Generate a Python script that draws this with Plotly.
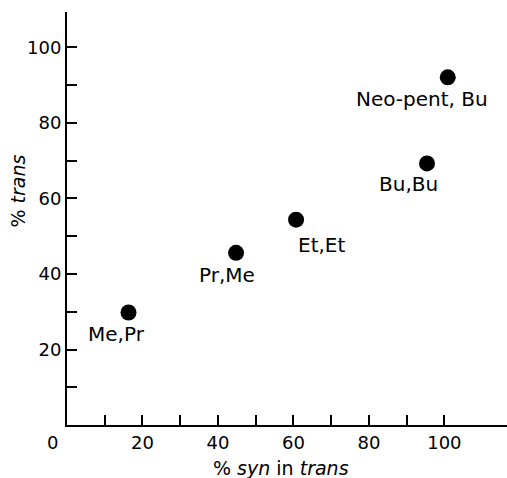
import plotly.graph_objects as go

# data
labels = ["Me,Pr", "Pr,Me", "Et,Et", "Bu,Bu", "Neo-pent, Bu"]
syn_in_trans = [16.3, 44.8, 60.7, 95.4, 100.9]
pct_trans = [29.8, 45.6, 54.4, 69.3, 92.1]
x_tick_vals = [10, 20, 30, 40, 50, 60, 70, 80, 90, 100]
x_tick_text = ["", "20", "", "40", "", "60", "", "80", "", "100"]
y_tick_vals = [10, 20, 30, 40, 50, 60, 70, 80, 90, 100]
y_tick_text = ["", "20", "", "40", "", "60", "", "80", "", "100"]

# label offsets in pixels (style, not data)
label_dx = [-12, -9, 25, -19, -26]
label_dy = [-21, -22, -25, -21, -22]

FONT = "DejaVu Sans"

fig = go.Figure()
fig.add_trace(go.Scatter(
    x=syn_in_trans, y=pct_trans, mode="markers",
    marker=dict(size=16, color="black"),
    hoverinfo="skip", showlegend=False,
))

for lab, xv, yv, dx, dy in zip(labels, syn_in_trans, pct_trans, label_dx, label_dy):
    fig.add_annotation(x=xv, y=yv, text=lab,
                       showarrow=False, xshift=dx, yshift=dy,
                       font=dict(family=FONT, size=20, color="black"))

fig.add_annotation(x=0, y=0, xref="x", yref="y", text="0", showarrow=False,
                   xshift=-15, yshift=-17, font=dict(family=FONT, size=18, color="black"))

# axis titles
fig.add_annotation(x=0.5, y=0, xref="paper", yref="paper", yanchor="middle",
                   text="% <i>syn</i> in <i>trans</i>", showarrow=False, xshift=-6, yshift=-43,
                   font=dict(family=FONT, size=19, color="black"))
fig.add_annotation(x=0, y=0.5, xref="paper", yref="paper", xanchor="center",
                   text="% <i>trans</i>", showarrow=False, textangle=-90, xshift=-50, yshift=27,
                   font=dict(family=FONT, size=19, color="black"))

axis_common = dict(
    showgrid=False, zeroline=False, showline=True, linecolor="black", linewidth=2,
    ticks="inside", ticklen=10, tickwidth=2, tickcolor="black", automargin=False,
    tickfont=dict(family=FONT, size=18, color="black"),
)

fig.update_xaxes(range=[0, 116.6], tickmode="array", tickvals=x_tick_vals,
                 ticktext=x_tick_text, **axis_common)
fig.update_yaxes(range=[0, 109.4], tickmode="array", tickvals=y_tick_vals,
                 ticktext=y_tick_text, **axis_common)

fig.update_layout(
    width=507, height=478,
    margin=dict(l=67, r=0, t=12, b=53, autoexpand=False),
    plot_bgcolor="white", paper_bgcolor="white",
)

fig.write_html("out.html", config={"displayModeBar": False, "staticPlot": True},
               post_script="document.body.style.margin='0';document.body.style.overflow='hidden';")
